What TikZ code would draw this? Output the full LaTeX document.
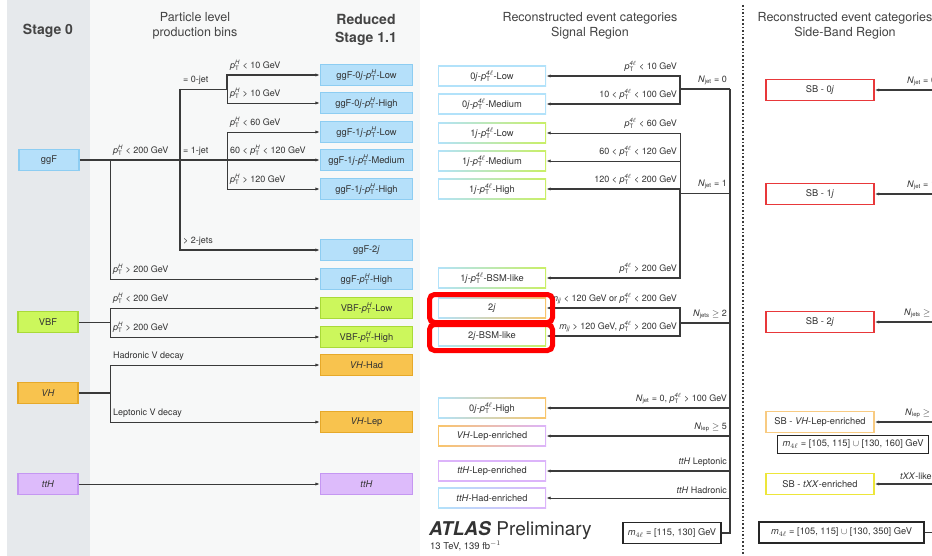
\documentclass[tikz,border=0pt]{standalone}
\usepackage{fontspec}
\usepackage{amsmath}
\setmainfont{TeX Gyre Heros}
\usetikzlibrary{arrows.meta}
\definecolor{bgA}{HTML}{E6E9EC}
\definecolor{bgB}{HTML}{F7F8F8}
\definecolor{txt}{HTML}{333333}
\definecolor{ttlc}{HTML}{444444}
\definecolor{lin}{HTML}{3A3A3A}
\definecolor{ggFfill}{HTML}{B5E0FA}
\definecolor{ggFdraw}{HTML}{8DCDF2}
\definecolor{VBFfill}{HTML}{CCF75C}
\definecolor{VBFdraw}{HTML}{A9DA38}
\definecolor{VHfill}{HTML}{F8C34E}
\definecolor{VHdraw}{HTML}{E6A92A}
\definecolor{tthfill}{HTML}{DDBBFB}
\definecolor{tthdraw}{HTML}{C597F2}
\definecolor{cBlue}{HTML}{B2E2FA}
\definecolor{cGreen}{HTML}{C9EF66}
\definecolor{cOrange}{HTML}{F9C56A}
\definecolor{cPurple}{HTML}{DCB4FA}
\definecolor{sbRed}{HTML}{E8383A}
\definecolor{sbOrange}{HTML}{F8CB82}
\definecolor{sbYellow}{HTML}{EDE63A}
\definecolor{hlRed}{HTML}{FF0000}
\newcommand\ptv[1]{\textit{p}\ensuremath{_{\text{T}}^{\text{\itshape #1}}}}
\newcommand\ptf{\ptv{4$\ell$}}
\newcommand\Nj[1]{\textit{N}\ensuremath{_{\text{#1}}}}
\newcommand\mjj{\textit{m}\ensuremath{_{\text{\itshape jj}}}}
\newcommand\mfl{\textit{m}\ensuremath{_{4\ell}}}
\tikzset{
  lab/.style={font=\fontsize{9}{9.5}\selectfont, text=txt, inner sep=1pt},
  labL/.style={lab, anchor=south west},
  labR/.style={lab, anchor=south east},
  conn/.style={draw=lin, line width=0.9pt},
  thk/.style={line width=1.6pt},
  arr/.style={conn, -{Latex[length=4.5pt,width=3.2pt]}},
  ttl/.style={font=\fontsize{12.5}{15}\selectfont, text=ttlc, align=center, inner sep=0pt},
  ttlb/.style={font=\fontsize{14}{18}\selectfont\bfseries, text=ttlc, align=center, inner sep=0pt},
  boxbase/.style={font=\fontsize{9.3}{10}\selectfont, text=txt, inner sep=0pt, minimum height=21pt},
  stzero/.style 2 args={boxbase, minimum width=60pt, fill=#1, draw=#2, line width=1.2pt},
  red11/.style 2 args={boxbase, minimum width=92pt, fill=#1, draw=#2, line width=1.2pt},
  sig/.style 2 args={boxbase, minimum width=108pt, left color=#1, right color=#2,
    path picture={\fill[white] ([xshift=1.4pt,yshift=-1.4pt]path picture bounding box.north west) rectangle ([xshift=-1.4pt,yshift=1.4pt]path picture bounding box.south east);}},
  sbbox/.style={boxbase, minimum width=108pt, fill=white, draw=#1, line width=1.3pt},
  mbox/.style={boxbase, fill=white, draw=black!85, line width=1.3pt, inner xsep=5pt},
  hl/.style={draw=hlRed, line width=5pt, rounded corners=5pt}
}
\begin{document}
\begin{tikzpicture}[x=1pt,y=-1pt]
\useasboundingbox (0,0) rectangle (932,556);
\clip (0,0) rectangle (932,556);
\fill[white] (0,0) rectangle (932,556);
\fill[bgA] (7,0) rectangle (90,556);
\fill[bgB] (90,0) rectangle (420,556);

% titles
\node[ttlb] (t0) at (48,31) {Stage 0};
\node[ttl] (t1) at (195,26) {Particle level\\production bins};
\node[ttlb] (t2) at (366,30) {Reduced\\Stage 1.1};
\node[ttl] (t3) at (590,26) {Reconstructed event categories\\Signal Region};
\node[ttl] (t4) at (845,26) {Reconstructed event categories\\Side-Band Region};

% Stage 0 boxes
\node[stzero={ggFfill}{ggFdraw}] (ggF) at (49,160) {ggF};
\node[stzero={VBFfill}{VBFdraw}] (VBF) at (48,322) {VBF};
\node[stzero={VHfill}{VHdraw}] (VH) at (48,393) {\textit{VH}};
\node[stzero={tthfill}{tthdraw}] (ttH) at (48,484) {\textit{ttH}};

% Reduced Stage 1.1 boxes
\node[red11={ggFfill}{ggFdraw}] (r1) at (366.5,75) {ggF-0\textit{j}-\ptv{H}-Low};
\node[red11={ggFfill}{ggFdraw}] (r2) at (366.5,103) {ggF-0\textit{j}-\ptv{H}-High};
\node[red11={ggFfill}{ggFdraw}] (r3) at (366.5,132) {ggF-1\textit{j}-\ptv{H}-Low};
\node[red11={ggFfill}{ggFdraw}] (r4) at (366.5,160) {ggF-1\textit{j}-\ptv{H}-Medium};
\node[red11={ggFfill}{ggFdraw}] (r5) at (366.5,189) {ggF-1\textit{j}-\ptv{H}-High};
\node[red11={ggFfill}{ggFdraw}] (r6) at (366.5,250) {ggF-2\textit{j}};
\node[red11={ggFfill}{ggFdraw}] (r7) at (366.5,279) {ggF-\ptv{H}-High};
\node[red11={VBFfill}{VBFdraw}] (r8) at (366.5,308) {VBF-\ptv{H}-Low};
\node[red11={VBFfill}{VBFdraw}] (r9) at (366.5,337) {VBF-\ptv{H}-High};
\node[red11={VHfill}{VHdraw}] (r10) at (366.5,365) {\textit{VH}-Had};
\node[red11={VHfill}{VHdraw}] (r11) at (366.5,422) {\textit{VH}-Lep};
\node[red11={tthfill}{tthdraw}] (r12) at (366.5,484) {\textit{ttH}};

% left tree
\coordinate (j0) at (110,160);
\coordinate (j1) at (180,160);
\coordinate (j2) at (227,160);
\coordinate (j3) at (180,89);
\coordinate (j4) at (227,89);
\coordinate (v0) at (110,322);
\coordinate (h0) at (110,393);
\draw[arr,thk] (ggF.east) -- (r4.west);
\draw[arr] (j0) |- (r7.west);
\draw[arr,thk] (j3) |- (r6.west);
\draw[conn] (j3) -- (j4);
\draw[arr,thk] (j4) |- (r1.west);
\draw[arr] (j4) |- (r2.west);
\draw[arr] (j2) |- (r3.west);
\draw[arr] (j2) |- (r5.west);
\draw[conn] (VBF.east) -- (v0);
\draw[arr] (v0) |- (r8.west);
\draw[arr] (v0) |- (r9.west);
\draw[conn,thk] (VH.east) -- (h0);
\draw[arr] (h0) |- (r10.west);
\draw[arr] (h0) |- (r11.west);
\draw[arr] (ttH.east) -- (r12.west);

\node[labL] (l1) at (112,157) {\ptv{H} < 200 GeV};
\node[labL] (l2) at (182,86) {= 0-jet};
\node[labL] (l3) at (182,157) {= 1-jet};
\node[labL] (l4) at (182,247) {> 2-jets};
\node[labL] (l5) at (112,276) {\ptv{H} > 200 GeV};
\node[labL] (l6) at (229,72) {\ptv{H} < 10 GeV};
\node[labL] (l7) at (229,100) {\ptv{H} > 10 GeV};
\node[labL] (l8) at (229,129) {\ptv{H} < 60 GeV};
\node[labL] (l9) at (229,157) {60 < \ptv{H} < 120 GeV};
\node[labL] (l10) at (229,186) {\ptv{H} > 120 GeV};
\node[labL] (l11) at (112,305) {\ptv{H} < 200 GeV};
\node[labL] (l12) at (112,334) {\ptv{H} > 200 GeV};
\node[labL] (l13) at (112,362) {Hadronic V decay};
\node[labL] (l14) at (112,419) {Leptonic V decay};

% signal region boxes
\node[sig={cBlue}{cBlue}] (s1) at (492,76) {0\textit{j}-\ptf-Low};
\node[sig={cBlue}{cBlue}] (s2) at (492,104) {0\textit{j}-\ptf-Medium};
\node[sig={cBlue}{cGreen}] (s3) at (492,133) {1\textit{j}-\ptf-Low};
\node[sig={cBlue}{cGreen}] (s4) at (492,161) {1\textit{j}-\ptf-Medium};
\node[sig={cBlue}{cGreen}] (s5) at (492,189) {1\textit{j}-\ptf-High};
\node[sig={cBlue}{cGreen}] (s6) at (492,278) {1\textit{j}-\ptf-BSM-like};
\node[sig={cBlue}{cOrange}] (s7) at (492,308) {2\textit{j}};
\node[sig={cBlue}{cGreen}] (s8) at (492,336) {2\textit{j}-BSM-like};
\node[sig={cBlue}{cOrange}] (s9) at (492,408) {0\textit{j}-\ptf-High};
\node[sig={cOrange}{cPurple}] (s10) at (492,436) {\textit{VH}-Lep-enriched};
\node[sig={cPurple}{cPurple}] (s11) at (492,471) {\textit{ttH}-Lep-enriched};
\node[sig={cBlue}{cPurple}] (s12) at (492,498) {\textit{ttH}-Had-enriched};

\node[mbox, minimum width=98pt] (ms) at (672,533) {\mfl{} = [115, 130] GeV};

% signal tree
\coordinate (m0) at (730,89);
\coordinate (m1) at (730,193);
\coordinate (m2) at (730,323);
\coordinate (m3) at (730,408);
\coordinate (m4) at (730,436);
\coordinate (m5) at (730,471);
\coordinate (m6) at (730,498);
\coordinate (b0) at (680,89);
\coordinate (b1) at (680,193);
\coordinate (b2) at (680,323);
\draw[conn,thk] (ms.east) -| (m0);
\draw[conn,thk] (m0) -- (b0);
\draw[conn] (m1) -- (b1);
\draw[conn,thk] (m2) -- (b2);
\draw[arr,thk] (b0) |- (s1.east);
\draw[arr,thk] (b0) |- (s2.east);
\draw[arr] (b1) |- (s3.east);
\draw[arr] (b1) |- (s4.east);
\draw[arr,thk] (b1) |- (s5.east);
\draw[arr,thk] (b1) |- (s6.east);
\draw[arr,thk] (b2) |- (s7.east);
\draw[arr,thk] (b2) |- (s8.east);
\draw[arr,thk] (m3) -- (s9.east);
\draw[arr,thk] (m4) -- (s10.east);
\draw[arr,thk] (m5) -- (s11.east);
\draw[arr] (m6) -- (s12.east);

\node[labR] (k1) at (678,73) {\ptf{} < 10 GeV};
\node[labR] (k2) at (678,101) {10 < \ptf{} < 100 GeV};
\node[labR] (k3) at (728,86) {\Nj{jet} = 0};
\node[labR] (k4) at (678,130) {\ptf{} < 60 GeV};
\node[labR] (k5) at (678,158) {60 < \ptf{} < 120 GeV};
\node[labR] (k6) at (678,186) {120 < \ptf{} < 200 GeV};
\node[labR] (k7) at (728,190) {\Nj{jet} = 1};
\node[labR] (k8) at (678,275) {\ptf{} > 200 GeV};
\node[labR] (k9) at (678,305) {\mjj{} < 120 GeV or \ptf{} < 200 GeV};
\node[labR] (k10) at (678,333) {\mjj{} > 120 GeV, \ptf{} > 200 GeV};
\node[labR] (k11) at (728,320) {\Nj{jets} $\geq$ 2};
\node[labR] (k12) at (728,405) {\Nj{jet} = 0, \ptf{} > 100 GeV};
\node[labR] (k13) at (728,433) {\Nj{lep} $\geq$ 5};
\node[labR] (k14) at (728,468) {\textit{ttH} Leptonic};
\node[labR] (k15) at (728,495) {\textit{ttH} Hadronic};

% red highlights
\draw[hl] (429.5,294.5) rectangle (552.5,322.5);
\draw[hl] (429.5,324.5) rectangle (552.5,350.5);

% separator
\draw[draw=lin, line width=1.6pt, dash pattern=on 1.6pt off 2pt] (743,5) -- (743,556);

% side-band boxes
\node[sbbox=sbRed] (sb0) at (820,90) {SB - 0\textit{j}};
\node[sbbox=sbRed] (sb1) at (820,194) {SB - 1\textit{j}};
\node[sbbox=sbRed] (sb2) at (820,322) {SB - 2\textit{j}};
\node[sbbox=sbOrange] (sb3) at (820,422) {SB - \textit{VH}-Lep-enriched};
\node[sbbox=sbYellow] (sb4) at (820,484) {SB - \textit{tXX}-enriched};
\node[mbox, anchor=west, minimum height=18pt] (mb1) at (777,444.5) {\mfl{} = [105, 115] $\cup$ [130, 160] GeV};
\node[mbox, minimum width=165pt] (mb2) at (841.5,532.5) {\mfl{} = [105, 115] $\cup$ [130, 350] GeV};

\coordinate (e0) at (950,90);
\coordinate (e1) at (950,194);
\coordinate (e2) at (950,322);
\coordinate (e3) at (950,422);
\coordinate (e4) at (950,484);
\coordinate (e5) at (950,532.5);
\draw[arr,thk] (e0) -- (sb0.east);
\draw[arr,thk] (e1) -- (sb1.east);
\draw[arr,thk] (e2) -- (sb2.east);
\draw[arr,thk] (e3) -- (sb3.east);
\draw[arr,thk] (e4) -- (sb4.east);
\draw[conn] (mb2.east) -- (e5);
\node[labL] (q0) at (906,87) {\Nj{jet} = 0};
\node[labL] (q1) at (906,191) {\Nj{jet} = 1};
\node[labL] (q2) at (903,319) {\Nj{jets} $\geq$ 2};
\node[labL] (q3) at (904,419) {\Nj{lep} $\geq$ 5};
\node[labL] (q4) at (899,481) {\textit{tXX}-like};

% ATLAS label
\node[anchor=base west, inner sep=0pt, text=txt, font=\fontsize{19}{21}\selectfont] (atl) at (429,535) {\textbf{\textit{ATLAS}} Preliminary};
\node[anchor=base west, inner sep=0pt, text=txt, font=\fontsize{9.5}{11}\selectfont] (atl2) at (430,549) {13 TeV, 139 fb\ensuremath{^{-1}}};
\end{tikzpicture}
\end{document}
